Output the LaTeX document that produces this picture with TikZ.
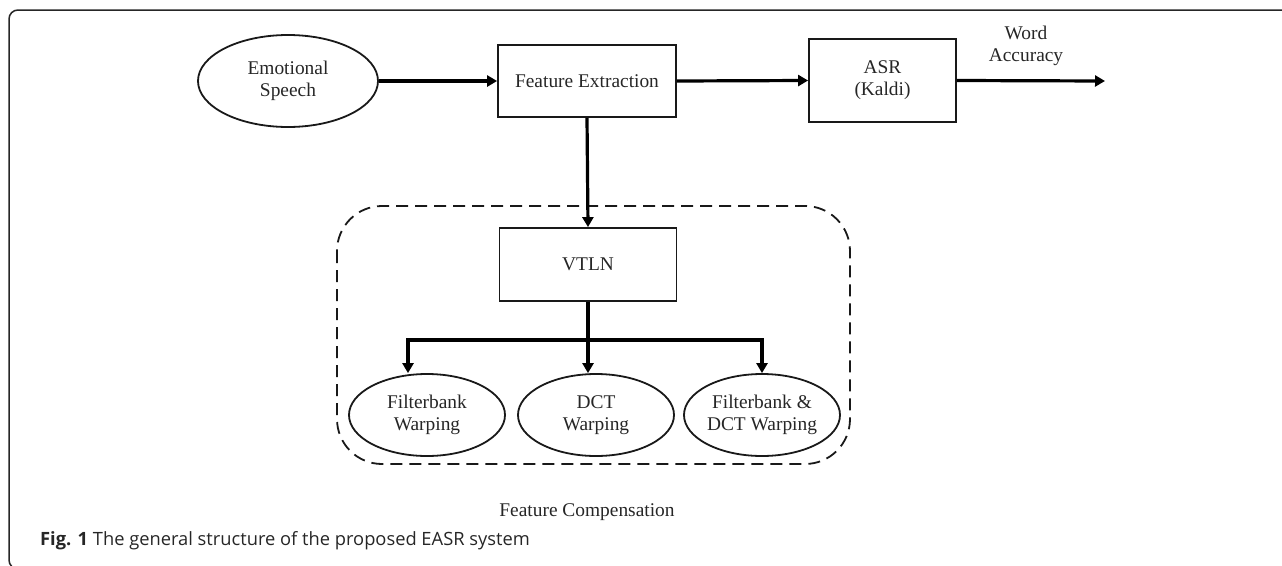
\documentclass[tikz,border=0pt]{standalone}
\usepackage{fontspec}
\setmainfont{Liberation Serif}
\newfontfamily\capfont{Open Sans}
\usetikzlibrary{arrows.meta,shapes.geometric,calc}
\begin{document}
\begin{tikzpicture}[x=1pt,y=-1pt,
  txt/.style={font=\fontsize{19.4}{22}\selectfont, align=center, inner sep=0pt, text=black!85},
  blk/.style={txt, draw=black!90, line width=1.8pt, rectangle},
  oval/.style={txt, draw=black!90, line width=1.8pt, ellipse},
  conn/.style={line width=3.2pt, -{Triangle[length=10pt,width=11pt]}}]
\useasboundingbox (0,0) rectangle (1282,565);
% outer frame
\draw[line width=1.5pt, rounded corners=9pt, black!85] (1300,10) -- (9,10) -- (9,569) -- (1300,569);
% nodes
\node[oval, minimum width=180pt, minimum height=92pt] (es) at (288,81) {Emotional\\Speech};
\node[blk, minimum width=178pt, minimum height=72pt] (fe) at (587,81) {Feature Extraction};
\node[blk, minimum width=147pt, minimum height=83pt] (asr) at (882.5,80.5) {ASR\\(Kaldi)};
\coordinate (out) at (1105,81);
\node[txt] (wa) at (1026,46) {Word\\Accuracy};
\node[blk, minimum width=177pt, minimum height=73pt] (vtln) at (588,264.5) {VTLN};
\node[oval, minimum width=156pt, minimum height=82pt] (fb) at (427,415) {Filterbank\\Warping};
\node[oval, minimum width=156pt, minimum height=82pt] (dct) at (596,415) {DCT\\Warping};
\node[oval, minimum width=156pt, minimum height=82pt] (both) at (762,415) {Filterbank \&\\DCT Warping};
% dashed group
\draw[line width=1.8pt, black!90, dash pattern=on 12pt off 7pt, rounded corners=45pt] (337,206) rectangle (850,464);
\node[txt] (fc) at (587,512) {Feature Compensation};
% connectors
\draw[conn] (es.east) -- (fe.west);
\draw[conn] (fe.east) -- (asr.west);
\draw[conn] (asr.east) -- (out);
\draw[conn] (fe.south) -- (vtln.north);
\coordinate (bar) at (588,340);
\draw[conn] (vtln.south) -- ([xshift=-8pt]dct.north);
\draw[conn] (vtln.south) -- (vtln.south |- bar) -| ([xshift=-19pt]fb.north);
\draw[conn] (vtln.south) -- (vtln.south |- bar) -| (both.north);
% caption
\node[anchor=west, inner sep=0pt, font=\capfont\fontsize{18.3}{21}\selectfont, text=black!85] (cap) at (40,541) {\textbf{Fig. 1} The general structure of the proposed EASR system};
\end{tikzpicture}
\end{document}
